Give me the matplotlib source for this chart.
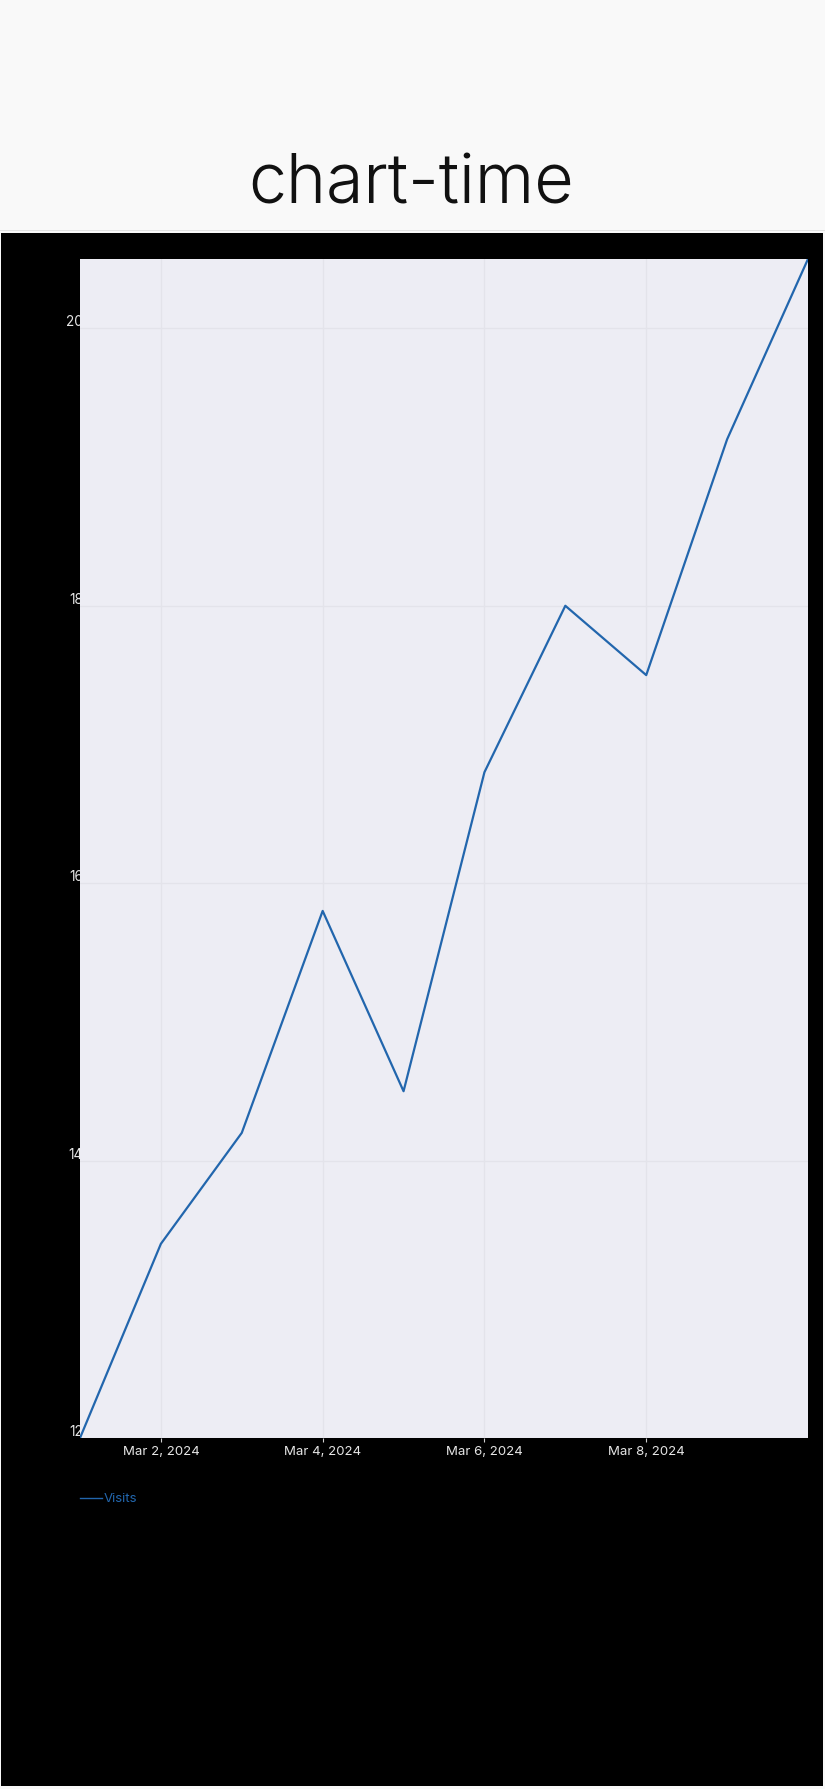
import matplotlib
matplotlib.use("Agg")
import matplotlib.pyplot as plt
import matplotlib.dates as mdates
import matplotlib.transforms as mtransforms
from matplotlib.patches import Rectangle
import datetime as dt

plt.rcParams['font.family'] = ['Inter', 'DejaVu Sans']

# ---- data ----
dates = ["2024-03-01", "2024-03-02", "2024-03-03", "2024-03-04", "2024-03-05",
         "2024-03-06", "2024-03-07", "2024-03-08", "2024-03-09", "2024-03-10"]
visits = [12.0, 13.4, 14.2, 15.8, 14.5, 16.8, 18.0, 17.5, 19.2, 20.5]
series_name = "Visits"
title = "chart-time"
y_ticks = [12, 14, 16, 18, 20]
x_tick_days = [2, 4, 6, 8]

W, H = 825, 1789
fig = plt.figure(figsize=(W / 100, H / 100), dpi=100, facecolor="#f9f9f9")

# black panel and separator line
fig.add_artist(Rectangle((0, 1 - 231 / H), 1, 1.5 / H, transform=fig.transFigure,
                         facecolor="#e2e2e2", edgecolor="none", zorder=-5))
fig.add_artist(Rectangle((1 / W, 1 - 1786 / H), 822 / W, (1786 - 233) / H,
                         transform=fig.transFigure, facecolor="black",
                         edgecolor="none", zorder=-4))

fig.text(411 / W, 1 - 203 / H, title, ha="center", va="baseline",
         fontsize=49, color="#111111", fontweight=300)

left, right, top, bottom = 80, 808, 259, 1438
ax = fig.add_axes([left / W, 1 - bottom / H, (right - left) / W, (bottom - top) / H])
ax.set_facecolor("#EDEDF4")
for s in ax.spines.values():
    s.set_visible(False)

x = [dt.datetime.strptime(d, "%Y-%m-%d") for d in dates]
line_color = "#2266ad"
ax.plot(x, visits, color=line_color, lw=1.6, label=series_name, zorder=3)

ax.set_xlim(x[0], x[-1])
ax.set_ylim(min(visits), max(visits))

ax.xaxis.set_major_locator(mdates.DayLocator(bymonthday=x_tick_days))
ax.xaxis.set_major_formatter(
    matplotlib.ticker.FuncFormatter(
        lambda v, p: (lambda d: f"{d:%b} {d.day}, {d.year}")(mdates.num2date(v))))
ax.set_yticks(y_ticks)
ax.tick_params(axis="x", color="#cfcfcf", labelsize=9.5, length=3, width=0.8,
               pad=3, labelcolor="#e6e6e6")
ax.tick_params(axis="y", length=0, labelleft=False)
ax.grid(True, color="#E3E3EA", lw=1.0, zorder=0)
ax.set_axisbelow(True)

# y tick labels drawn beneath the plot panel (partly hidden like the reference)
ytrans = mtransforms.blended_transform_factory(fig.transFigure, ax.transData)
ytrans = mtransforms.offset_copy(ytrans, fig=fig, x=0, y=6, units="dots")
for t in y_ticks:
    fig.text(83 / W, t, f"{t}", transform=ytrans, ha="right", va="center",
             fontsize=9.8, color="#e6e6e6", zorder=-1)

leg = ax.legend(loc="center left", bbox_to_anchor=(0, -(1499 - bottom) / (bottom - top)),
                frameon=False, fontsize=9.5, handlelength=1.7, handletextpad=0.1,
                borderpad=0, borderaxespad=0)
for txt in leg.get_texts():
    txt.set_color(line_color)
for h in leg.legend_handles:
    h.set_linewidth(1.0)

fig.savefig("out.png", dpi=100, facecolor=fig.get_facecolor())
